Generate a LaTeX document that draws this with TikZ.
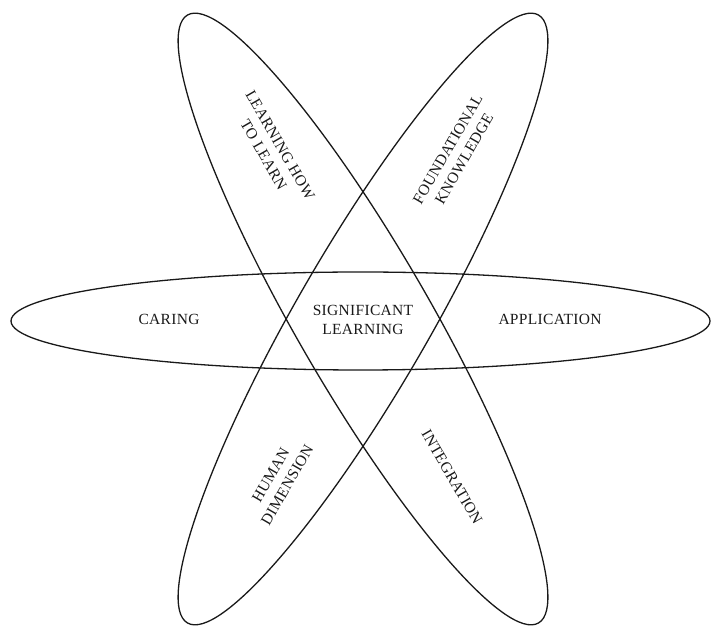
\documentclass[tikz,border=0pt]{standalone}
\usepackage{fontspec}
\setmainfont{Liberation Serif}[LetterSpace=2]
\begin{document}
\begin{tikzpicture}[x=1pt,y=1pt,
  orbit/.style={draw=black!90,line width=1.3pt},
  lbl/.style={align=center,font=\fontsize{15.5}{19}\selectfont,text=black!90,inner sep=0pt}]
\useasboundingbox (0,0) rectangle (711,626);
\coordinate (hc) at (360.5,305);
\coordinate (tc) at (363,307);
\draw[orbit] (hc) ellipse [x radius=349.5, y radius=49];
\draw[orbit,rotate around={60:(tc)}] (tc) ellipse [x radius=351, y radius=67];
\draw[orbit,rotate around={-60:(tc)}] (tc) ellipse [x radius=351, y radius=67];
\node[lbl] (caring) at (169,307) {CARING};
\node[lbl] (sig) at (363,306) {SIGNIFICANT\\LEARNING};
\node[lbl] (app) at (550,307) {APPLICATION};
\node[lbl,rotate=-60] (lhl) at (272,476) {LEARNING HOW\\TO LEARN};
\node[lbl,rotate=60] (fk) at (456,472) {FOUNDATIONAL\\KNOWLEDGE};
\node[lbl,rotate=60] (hd) at (279,146) {HUMAN\\DIMENSION};
\node[lbl,rotate=-60] (int) at (452,149) {INTEGRATION};
\end{tikzpicture}
\end{document}
